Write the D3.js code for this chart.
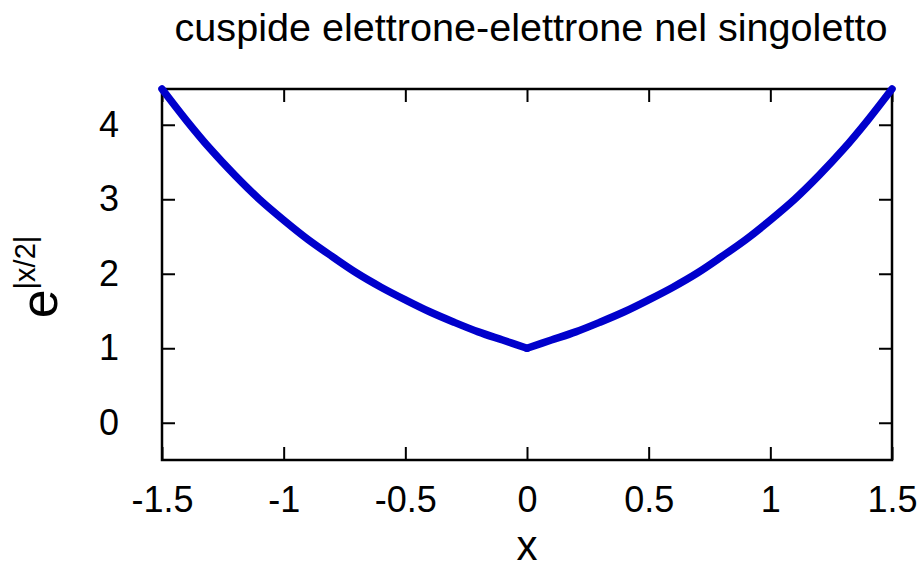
<!DOCTYPE html>
<html>
<head>
<meta charset="utf-8">
<script src="https://cdn.jsdelivr.net/npm/d3@7"></script>
<style>
  body { margin: 0; background: #fff; }
  text { font-family: "Liberation Sans", Arial, sans-serif; fill: #000; }
</style>
</head>
<body>
<svg id="chart" width="923" height="570"></svg>
<script>
// valori
var xLeft = [-1.5, -1.4, -1.3, -1.2, -1.1, -1.0, -0.9, -0.8, -0.7, -0.6, -0.5, -0.4, -0.3, -0.2, -0.1, 0];
var yLeft = [4.48, 4.06, 3.67, 3.32, 3.00, 2.72, 2.46, 2.23, 2.01, 1.82, 1.65, 1.49, 1.35, 1.22, 1.11, 1.00];
var xRight = [0, 0.1, 0.2, 0.3, 0.4, 0.5, 0.6, 0.7, 0.8, 0.9, 1.0, 1.1, 1.2, 1.3, 1.4, 1.5];
var yRight = [1.00, 1.11, 1.22, 1.35, 1.49, 1.65, 1.82, 2.01, 2.23, 2.46, 2.72, 3.00, 3.32, 3.67, 4.06, 4.48];

var xTicks = [-1.5, -1, -0.5, 0, 0.5, 1, 1.5];
var yTicks = [0, 1, 2, 3, 4];

var titleText = "cuspide elettrone-elettrone nel singoletto";

(function() {
	var svg = d3.select("#chart");
	var mLeft = 162, mRight = 892, mTop = 89, mBottom = 460;

	var x = d3.scaleLinear().domain([-1.5, 1.5]).range([mLeft, mRight]);
	var y = d3.scaleLinear().domain([-0.5, 4.48]).range([mBottom, mTop]);

	var fmt = function(d) { return String(d); };
	var tickLen = 13;

	// assi con tacche interne, anche sopra e a destra
	var gB = svg.append("g").attr("transform", "translate(0," + mBottom + ")")
		.call(d3.axisBottom(x).tickValues(xTicks).tickFormat(fmt).tickSizeInner(-tickLen).tickSizeOuter(0).tickPadding(26));
	var gT = svg.append("g").attr("transform", "translate(0," + mTop + ")")
		.call(d3.axisTop(x).tickValues(xTicks).tickFormat("").tickSizeInner(-tickLen).tickSizeOuter(0));
	var gL = svg.append("g").attr("transform", "translate(" + mLeft + ",0)")
		.call(d3.axisLeft(y).tickValues(yTicks).tickFormat(fmt).tickSizeInner(-tickLen).tickSizeOuter(0).tickPadding(43));
	var gR = svg.append("g").attr("transform", "translate(" + mRight + ",0)")
		.call(d3.axisRight(y).tickValues(yTicks).tickFormat("").tickSizeInner(-tickLen).tickSizeOuter(0));

	[gB, gT, gL, gR].forEach(function(g) {
		g.select(".domain").remove();
		g.selectAll("line").attr("stroke", "#000").attr("stroke-width", 2);
		g.selectAll("text").style("font-size", "36px").attr("font-family", null);
	});
	gB.selectAll("text").attr("dy", "0.71em");

	svg.append("rect")
		.attr("x", mLeft).attr("y", mTop)
		.attr("width", mRight - mLeft).attr("height", mBottom - mTop)
		.attr("fill", "none").attr("stroke", "#000").attr("stroke-width", 2.5);

	var line = d3.line()
		.x(function(d) { return x(d[0]); })
		.y(function(d) { return y(d[1]); })
		.curve(d3.curveCatmullRom);

	[[xLeft, yLeft], [xRight, yRight]].forEach(function(s) {
		svg.append("path")
			.datum(d3.zip(s[0], s[1]))
			.attr("d", line)
			.attr("fill", "none")
			.attr("stroke", "#0000cc")
			.attr("stroke-width", 7.5)
			.attr("stroke-linecap", "round")
			.attr("stroke-linejoin", "round");
	});

	svg.append("text")
		.attr("x", 531).attr("y", 41)
		.attr("text-anchor", "middle")
		.style("font-size", "39.6px")
		.text(titleText);

	svg.append("text")
		.attr("x", 527).attr("y", 560)
		.attr("text-anchor", "middle")
		.style("font-size", "42px")
		.text("x");

	var yl = svg.append("text")
		.attr("transform", "translate(57,277) rotate(-90)")
		.attr("text-anchor", "middle");
	yl.append("tspan").style("font-size", "52px").text("e");
	yl.append("tspan").style("font-size", "29px").attr("dy", "-22").text("|x/2|");
})();
</script>
</body>
</html>
